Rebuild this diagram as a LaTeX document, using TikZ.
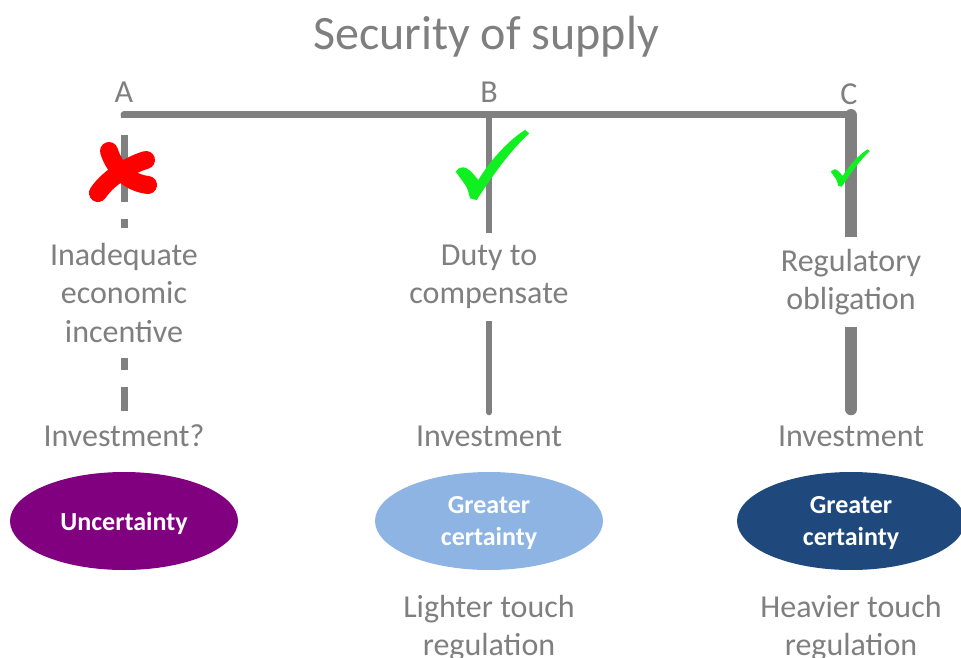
\documentclass[tikz,border=0pt]{standalone}
\usepackage{fontspec}
\setmainfont{Carlito}
\usetikzlibrary{shapes.geometric,backgrounds}
\definecolor{linegray}{RGB}{128,128,128}
\definecolor{txtgray}{RGB}{127,127,127}
\definecolor{plum}{RGB}{128,0,128}
\definecolor{paleblue}{RGB}{141,180,226}
\definecolor{navyblue}{RGB}{31,73,125}
\definecolor{okgreen}{RGB}{16,240,32}
\tikzset{
  txt/.style={text=txtgray, font=\fontsize{32}{38.5}\selectfont, align=center, inner sep=3pt},
  gap/.style={txt, fill=white, inner xsep=4pt, inner ysep=12pt},
  bar/.style={draw=linegray, line width=7pt, line cap=round},
  blob/.style={ellipse, minimum width=228pt, minimum height=98pt, inner sep=0pt, text depth=0pt,
    text=white, align=center, font=\fontsize{26}{32}\selectfont\bfseries},
  okmark/.pic={
    \fill[okgreen, scale=#1] (-0.484,0.089) .. controls (-0.44,0.04) .. (-0.383,0.031)
      .. controls (-0.33,0.03) and (-0.27,0.09) .. (-0.183,0.2)
      .. controls (0,-0.1) and (0.25,-0.35) .. (0.44,-0.467) -- (0.497,-0.422)
      .. controls (0.25,-0.2) and (0,0.15) .. (-0.204,0.467) -- (-0.293,0.444)
      .. controls (-0.33,0.3) .. (-0.404,0.2) .. controls (-0.44,0.15) .. cycle;
  },
  xmark/.pic={
    \draw[red, line width=18pt, line cap=round] (-13,-23) .. controls (-7,-4) and (8,9) .. (26,11);
    \draw[red, line width=18pt, line cap=round] (24,-14) .. controls (13,-11) and (-12,1) .. (-24,19);
  }
}

\begin{document}
\begin{tikzpicture}[x=1pt, y=-1pt]
  \useasboundingbox (0,0) rectangle (961,658);

  \node[txt, font=\fontsize{48}{56}\selectfont, anchor=base] (title) at (486,50) {Security of supply};

  % the three options along the bar
  \node[txt, anchor=base] (labA) at (124,103) {A};
  \node[txt, anchor=base] (labB) at (489,103) {B};
  \node[txt, anchor=base] (labC) at (849,105) {C};
  \coordinate (topA) at (124,115);
  \coordinate (topB) at (489,115);
  \coordinate (topC) at (851,115);

  \node[gap, inner ysep=15pt] (whyA) at (124,293) {Inadequate\\economic\\incentive};
  \node[gap] (whyB) at (489,277) {Duty to\\compensate};
  \node[gap] (whyC) at (851,282) {Regulatory\\obligation};

  \node[txt, anchor=base] (invA) at (124,446) {Investment?};
  \node[txt, anchor=base] (invB) at (489,446) {Investment};
  \node[txt, anchor=base] (invC) at (851,446) {Investment};

  \node[blob, fill=plum] (elA) at (124,521) {Uncertainty};
  \node[blob, fill=paleblue] (elB) at (489,521) {Greater\\certainty};
  \node[blob, fill=navyblue] (elC) at (851,521) {Greater\\certainty};

  \node[txt, anchor=north] (regB) at (489,592) {Lighter touch\\regulation};
  \node[txt, anchor=north] (regC) at (851,592) {Heavier touch\\regulation};

  \begin{scope}[on background layer]
    \draw[bar] (topA) -- (topC);
    \draw[bar, line cap=butt, dash pattern=on 25pt off 17pt, dash phase=22pt, shorten >=10pt] (topA) -- (invA.north);
    \draw[bar, line width=6pt, shorten >=10pt] (topB) -- (invB.north);
    \draw[bar, line width=12pt, shorten >=13pt] (topC) -- (invC.north);
  \end{scope}

  \pic at (122,174) {xmark};
  \pic at (492,165) {okmark=75};
  \pic at (850,168) {okmark=40};
\end{tikzpicture}
\end{document}
